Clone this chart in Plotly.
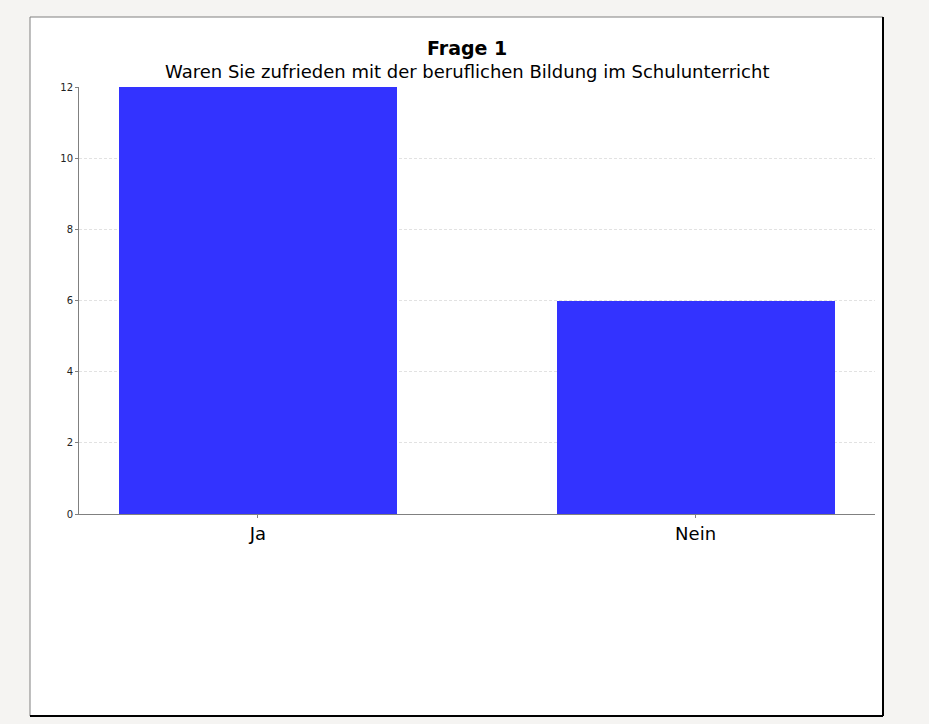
import plotly.graph_objects as go

# Frage 1 - Antworten
categories = ["Ja", "Nein"]
counts = [12, 6]
y_ticks = [0, 2, 4, 6, 8, 10, 12]

title = "Frage 1"
subtitle = "Waren Sie zufrieden mit der beruflichen Bildung im Schulunterricht"

fig = go.Figure(go.Bar(
    x=categories,
    y=counts,
    width=0.635,
    marker=dict(color="#3333ff", line=dict(width=0)),
))

fig.update_layout(
    width=929,
    height=724,
    margin=dict(l=79, r=54, t=87, b=210, autoexpand=False),
    paper_bgcolor="#f5f4f2",
    plot_bgcolor="rgba(0,0,0,0)",
    font=dict(family="DejaVu Sans", color="#000000"),
    showlegend=False,
    bargap=0,
)

fig.update_xaxes(
    type="category",
    range=[-0.409, 1.41],
    showline=True,
    linecolor="#808080",
    linewidth=1,
    ticks="outside",
    ticklen=3,
    tickcolor="#808080",
    tickfont=dict(size=18),
    showgrid=False,
    zeroline=False,
)

fig.update_yaxes(
    range=[0, 12],
    tickvals=y_ticks,
    showline=True,
    linecolor="#808080",
    linewidth=1,
    ticks="outside",
    ticklen=3,
    tickcolor="#808080",
    tickfont=dict(size=10, color="#222222"),
    showgrid=True,
    gridcolor="#e2e2e2",
    griddash="3px,2px",
    gridwidth=1,
    zeroline=False,
)

# white panel with frame (gray top/left, black bottom/right)
px0, px1 = (30 - 79) / 796, (883 - 79) / 796
py0, py1 = (514 - 716) / 427, (514 - 17) / 427
fig.add_shape(type="rect", xref="paper", yref="paper", x0=px0, x1=px1, y0=py0, y1=py1,
              fillcolor="white", line=dict(color="#808080", width=1), layer="below")
fig.add_shape(type="line", xref="paper", yref="paper", x0=px1, x1=px1, y0=py0, y1=py1,
              line=dict(color="#000000", width=2), layer="below")
fig.add_shape(type="line", xref="paper", yref="paper", x0=px0, x1=px1, y0=py0, y1=py0,
              line=dict(color="#000000", width=2), layer="below")

fig.add_annotation(text="<b>" + title + "</b>", xref="paper", yref="paper",
                   x=(467 - 79) / 796, y=(514 - 48) / 427, showarrow=False,
                   xanchor="center", yanchor="middle", font=dict(size=19))
fig.add_annotation(text=subtitle, xref="paper", yref="paper",
                   x=(467 - 79) / 796, y=(514 - 72) / 427, showarrow=False,
                   xanchor="center", yanchor="middle", font=dict(size=18))

fig.write_html(
    "out.html",
    config={"displayModeBar": False},
    post_script="document.body.style.margin='0';document.body.style.background='#f5f4f2';",
)
